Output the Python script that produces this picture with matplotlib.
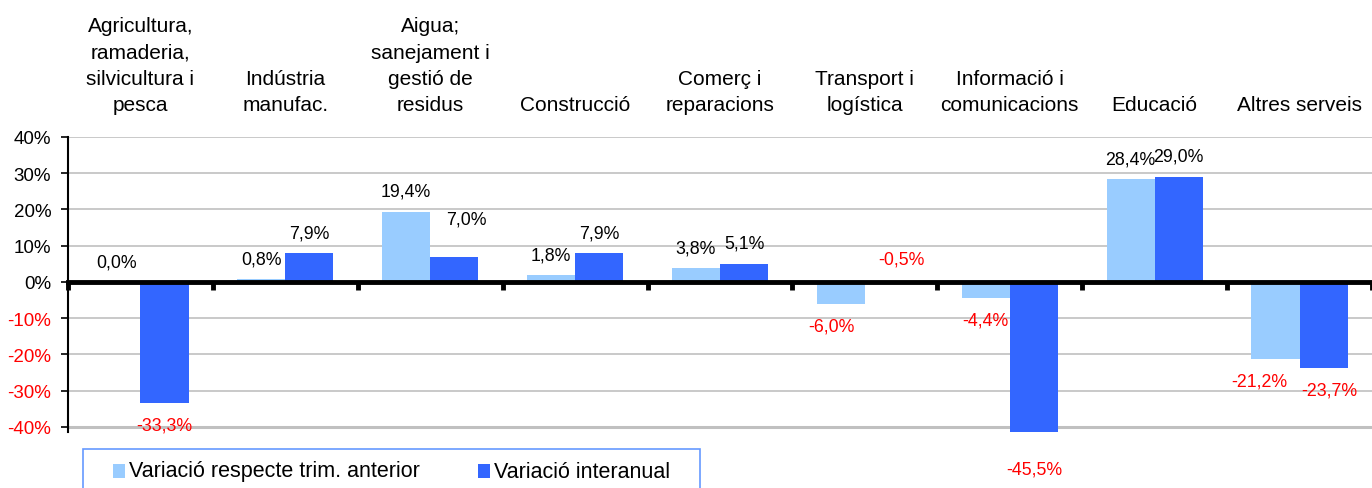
import matplotlib
matplotlib.use("Agg")
import matplotlib.pyplot as plt
from matplotlib.patches import Rectangle
import numpy as np

plt.rcParams['font.family'] = ['Liberation Sans', 'DejaVu Sans']

categories = ["Agricultura,\nramaderia,\nsilvicultura i\npesca", "Indústria\nmanufac.",
              "Aigua;\nsanejament i\ngestió de\nresidus", "Construcció", "Comerç i\nreparacions",
              "Transport i\nlogística", "Informació i\ncomunicacions", "Educació", "Altres serveis"]
var_trim = [0.0, 0.8, 19.4, 1.8, 3.8, -6.0, -4.4, 28.4, -21.2]
var_inter = [-33.3, 7.9, 7.0, 7.9, 5.1, -0.5, -45.5, 29.0, -23.7]
series_names = ["Variació respecte trim. anterior", "Variació interanual"]
yticks = [-40, -30, -20, -10, 0, 10, 20, 30, 40]

light = '#99CCFF'
dark = '#3366FF'
red = '#FF0000'

W, H = 1372, 489
LEFT = 68
fig = plt.figure(figsize=(W / 100, H / 100), dpi=100)
ax = fig.add_axes([LEFT / W, (H - 432.7) / H, (W - LEFT) / W, (432.7 - 138) / H])

x = np.arange(len(categories))
w = 0.332
ax.bar(x - w / 2, var_trim, w, color=light, zorder=2)
ax.bar(x + w / 2, var_inter, w, color=dark, zorder=2)

ax.set_xlim(-0.5, -0.5 + (W - LEFT) / 145.7)
ax.set_ylim(-41.3, 40)

# grid
for t in yticks:
    if t == 0:
        continue
    ax.axhline(t, color='#C0C0C0', lw=2.2 if t == -40 else 1.2, zorder=1)

# y axis
ax.set_yticks(yticks)
ax.set_yticklabels([f"{t}%" for t in yticks], fontsize=13.5)
for lab, t in zip(ax.get_yticklabels(), yticks):
    lab.set_color(red if t < 0 else 'black')
ax.tick_params(axis='y', direction='out', length=5, width=1.2, pad=7)
ax.spines['left'].set_linewidth(1.5)
ax.spines['right'].set_visible(False)
ax.spines['top'].set_visible(False)

# x axis at zero with category boundary ticks
ax.spines['bottom'].set_position(('data', 0))
ax.spines['bottom'].set_linewidth(3.5)
ax.spines['bottom'].set_zorder(4)
ax.set_xticks(np.arange(len(categories) + 1) - 0.5)
ax.set_xticklabels([])
ax.tick_params(axis='x', direction='out', length=6, width=3.5)

# category labels above the plot
for i, c in enumerate(categories):
    ax.annotate(c, xy=(i, 1), xycoords=('data', 'axes fraction'),
                xytext=(0, 19.5), textcoords='offset points',
                ha='center', va='baseline', fontsize=15, linespacing=1.48,
                annotation_clip=False)

# data labels
nudges = {(1, 2): (9, 12), (1, 5): (9, 13), (0, 8): (-12, 0), (0, 5): (-7, 0), (1, 8): (4, 0)}
for s, (vals, off) in enumerate(zip([var_trim, var_inter], [-w / 2, w / 2])):
    for i, v in enumerate(vals):
        txt = f"{v:.1f}%".replace('.', ',')
        dx, dy = nudges.get((s, i), (0, 0))
        if v >= 0:
            ax.annotate(txt, xy=(i + off, v), xytext=(dx, 11.5 + dy), textcoords='offset points',
                        ha='center', va='baseline', fontsize=12.8, color='black',
                        annotation_clip=False)
        elif dy:
            ax.annotate(txt, xy=(i + off, 0), xytext=(dx, dy), textcoords='offset points',
                        ha='center', va='baseline', fontsize=12.8, color=red,
                        annotation_clip=False)
        else:
            ax.annotate(txt, xy=(i + off, v), xytext=(dx, -10), textcoords='offset points',
                        ha='center', va='top', fontsize=12.8, color=red,
                        annotation_clip=False)

# legend box (drawn in figure pixel coordinates)
def fx(px):
    return px / W

def fy(py):
    return 1 - py / H

fig.patches.append(Rectangle((fx(83), fy(500)), fx(700) - fx(83), fy(450) - fy(500),
                             transform=fig.transFigure, facecolor='white',
                             edgecolor='#6699FF', lw=1.2))
for col, name, px in [(light, series_names[0], 113), (dark, series_names[1], 478)]:
    fig.patches.append(Rectangle((fx(px), fy(479)), fx(12), 14 / H,
                                 transform=fig.transFigure, facecolor=col, edgecolor='none'))
    fig.text(fx(px + 16), fy(472), name, fontsize=15.5, ha='left', va='center')

fig.savefig('out.png', dpi=100)
